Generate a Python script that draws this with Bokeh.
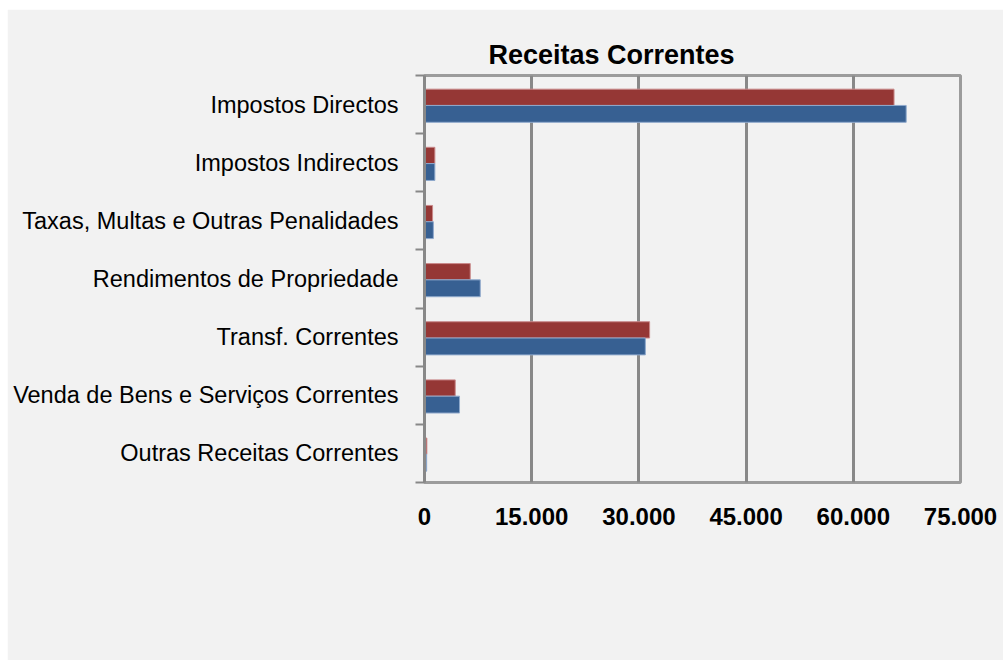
from bokeh.plotting import figure
from bokeh.models import (ColumnDataSource, FactorRange, Range1d, LinearAxis, CategoricalAxis,
                          FixedTicker, Legend, LegendItem, Title, CustomJSTickFormatter)
from bokeh.transform import dodge
from bokeh.embed import file_html
from bokeh.resources import INLINE

categories = ["Impostos Directos", "Impostos Indirectos", "Taxas, Multas e Outras Penalidades",
              "Rendimentos de Propriedade", "Transf. Correntes",
              "Venda de Bens e Serviços Correntes", "Outras Receitas Correntes"]
values_2015 = [65700, 1450, 1130, 6400, 31500, 4300, 330]
values_2016 = [67400, 1450, 1240, 7800, 30900, 4900, 300]
tick_values = [0, 15000, 30000, 45000, 60000, 75000]
tick_labels = ["0", "15.000", "30.000", "45.000", "60.000", "75.000"]

RED = "#953735"
BLUE = "#376092"
BG = "#f2f2f2"
FONT = "Liberation Sans"

src = ColumnDataSource(dict(cat=categories, v2015=values_2015, v2016=values_2016))

W, H = 996, 651
FL, FR, FT, FB = 417, 953, 66, 473
p = figure(width=W, height=H, frame_width=FR - FL, frame_height=FB - FT,
           output_backend="svg", toolbar_location=None,
           y_range=FactorRange(factors=categories[::-1], range_padding=0),
           x_range=Range1d(0, 75000), x_axis_location=None, y_axis_location=None,
           min_border_left=FL, min_border_right=W - FR, min_border_top=FT,
           min_border_bottom=0)
p.styles = {"margin-left": "7px", "margin-top": "9px"}
p.background_fill_color = BG
p.border_fill_color = BG
p.outline_line_color = "#9c9c9c"
p.outline_line_width = 3

r15 = p.hbar(y=dodge("cat", 0.125, range=p.y_range), right="v2015", left=0, height=0.28,
             source=src, fill_color=RED, line_color="#c9898a", line_width=1)
r16 = p.hbar(y=dodge("cat", -0.16, range=p.y_range), right="v2016", left=0, height=0.29,
             source=src, fill_color=BLUE, line_color="#8fa9cc", line_width=1)

# x axis (labels only); an invisible axis label only reserves the gap above the legend
xax = LinearAxis(ticker=FixedTicker(ticks=tick_values),
                 major_label_overrides={v: l for v, l in zip(tick_values, tick_labels)})
xax.axis_line_color = None
xax.major_tick_line_color = None
xax.minor_tick_line_color = None
xax.major_tick_out = 0
xax.major_label_standoff = 25
xax.major_label_text_font = FONT
xax.major_label_text_font_style = "bold"
xax.major_label_text_font_size = "24px"
xax.major_label_text_color = "#000000"
xax.axis_label = "\u00a0"
xax.axis_label_standoff = 43
xax.axis_label_text_font_size = "20px"
xax.axis_label_text_color = BG
p.add_layout(xax, "below")

# vertical grid lines
p.xgrid.grid_line_color = "#888888"
p.xgrid.grid_line_width = 3
p.xgrid.ticker = FixedTicker(ticks=tick_values)
p.ygrid.grid_line_color = None

# y tick marks at category boundaries (synthetic coordinates of the factor range)
tax = LinearAxis(ticker=FixedTicker(ticks=list(range(len(categories) + 1))),
                 formatter=CustomJSTickFormatter(code="return ''"))
tax.major_label_standoff = 0
tax.major_tick_out = 9
tax.major_tick_in = 0
tax.major_tick_line_color = "#888888"
tax.major_tick_line_width = 2
tax.minor_tick_line_color = None
tax.axis_line_color = "#888888"
tax.axis_line_width = 3
p.add_layout(tax, "left")

yax = CategoricalAxis()
yax.axis_line_color = None
yax.major_tick_line_color = None
yax.minor_tick_line_color = None
yax.major_label_standoff = 11
yax.major_label_text_font = FONT
yax.major_label_text_font_size = "23.5px"
yax.major_label_text_color = "#000000"
p.add_layout(yax, "left")

# title
p.add_layout(Title(text="Receitas Correntes", align="left", offset=64, standoff=12,
                   text_font=FONT, text_font_style="bold", text_font_size="27px",
                   text_color="#000000"), "above")

legend = Legend(items=[LegendItem(label="2015", renderers=[r15]),
                       LegendItem(label="2016", renderers=[r16])],
                orientation="horizontal", location="top_left",
                background_fill_alpha=0, border_line_color=None,
                glyph_width=14, glyph_height=14, label_standoff=6, spacing=20,
                padding=13, margin=0,
                label_text_font=FONT, label_text_font_style="bold",
                label_text_font_size="21px", label_text_color="#000000")
p.add_layout(legend, "below")

open("out.html", "w").write(file_html(p, INLINE))
